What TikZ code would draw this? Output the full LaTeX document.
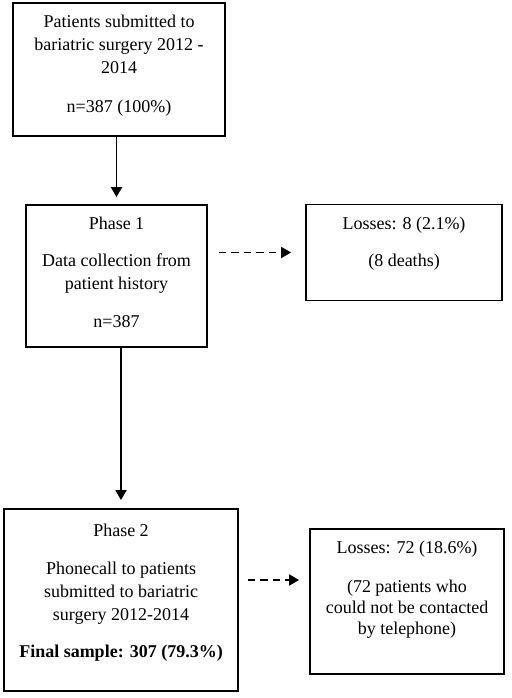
\documentclass[tikz,border=0pt]{standalone}
\usepackage{fontspec}
\setmainfont{Liberation Serif}
\usetikzlibrary{arrows.meta}

% text block of a box: [top pad], width, height, lines
\newcommand{\boxlines}[4][12.5pt]{\parbox[c][#3][t]{#2}{\centering\vspace*{#1}#4}}

\begin{document}
\begin{tikzpicture}[x=1pt, y=-1pt,
    box/.style={draw, line width=1.8pt, inner sep=0pt, font=\fontsize{18pt}{23pt}\selectfont},
    flow/.style={line width=1.8pt, -{Triangle[length=10pt, width=11pt]}},
    loss/.style={flow, dash pattern=on 7.5pt off 5pt}
  ]
  \useasboundingbox (0,0) rectangle (511,698);

  \node[box] (total) at (119,69.5) {\boxlines{212pt}{133pt}{Patients submitted to\\ bariatric surgery 2012 -\\ 2014\\[16pt] n=387 (100\%)}};
  \node[box] (phase1) at (116.5,276) {\boxlines{181pt}{142pt}{Phase 1\\[14pt] Data collection from\\ patient history\\[15pt] n=387}};
  \node[box] (death) at (404,252.5) {\boxlines{196pt}{96pt}{Losses: 8 (2.1\%)\\[14pt] (8 deaths)}};
  \node[box] (phase2) at (121,600) {\boxlines[15pt]{234pt}{182pt}{Phase 2\\[15pt] Phonecall to patients\\ submitted to bariatric\\ surgery 2012-2014\\[14pt] \textbf{Final sample: 307 (79.3\%)}}};
  \node[box] (drop) at (407,601.5) {\boxlines[12pt]{194pt}{145pt}{Losses: 72 (18.6\%)\\[16pt] (72 patients who\\[-2pt] could not be contacted\\[-2pt] by telephone)}};

  \coordinate (lossrow) at (0,580);

  \draw[flow, shorten >=7pt] (total.south -| phase1.north) -- (phase1.north);
  \draw[flow, shorten >=8pt] (phase1.south -| phase2.north) -- (phase2.north);
  \draw[loss, shorten <=11pt, shorten >=14pt] (phase1.east |- death.west) -- (death.west);
  \draw[loss, shorten <=9pt, shorten >=10pt] (phase2.east |- lossrow) -- (drop.west |- lossrow);
\end{tikzpicture}
\end{document}
